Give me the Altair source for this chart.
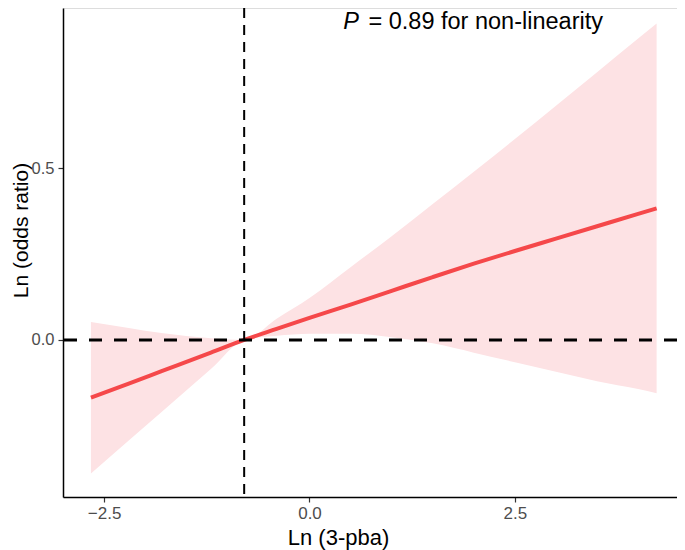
import altair as alt
import pandas as pd

# ---- data ----
x_vals = [-2.66, -2.2, -1.8, -1.2, -0.795, -0.4, 0.0, 0.5, 1.0, 1.5, 2.0, 2.5, 3.0, 3.5, 4.0, 4.225]
fit = [-0.168, -0.127, -0.091, -0.037, 0.0, 0.032, 0.064, 0.103, 0.143, 0.183, 0.222, 0.259, 0.295, 0.331, 0.367, 0.383]
upper = [0.052, 0.035, 0.020, 0.005, 0.0, 0.062, 0.122, 0.212, 0.302, 0.396, 0.490, 0.585, 0.682, 0.780, 0.878, 0.922]
lower = [-0.389, -0.293, -0.210, -0.085, 0.0, 0.012, 0.018, 0.018, 0.008, -0.010, -0.037, -0.065, -0.093, -0.120, -0.143, -0.155]
ref_x = [-0.795]
ref_y = [0.0]
x_ticks = [-2.5, 0.0, 2.5]
y_ticks = [0.0, 0.5]
x_domain = [-3.0, 4.473]
y_domain = [-0.4575, 0.9668]

ann_p = pd.DataFrame({"x": [0.41], "y": [0.905], "t": ["P"]})
ann_rest = pd.DataFrame({"x": [0.718], "y": [0.905], "t": ["= 0.89 for non-linearity"]})

df = pd.DataFrame({"x": x_vals, "fit": fit, "upper": upper, "lower": lower})

FONT = "Liberation Sans"

xscale = alt.Scale(domain=x_domain, nice=False, zero=False)
yscale = alt.Scale(domain=y_domain, nice=False, zero=False)

xaxis = alt.Axis(
    values=x_ticks, format=".1f", grid=False, title="Ln (3-pba)",
    domainColor="black", domainWidth=1.5, tickColor="#333333", tickWidth=1.2, tickSize=5,
    labelColor="#4D4D4D", labelFontSize=17, labelFont=FONT, labelPadding=3,
    titleFont=FONT, titleFontSize=22, titleFontWeight="normal", titleColor="black",
    titleX=275, titleY=47, titleAlign="center", titleBaseline="alphabetic",
)
yaxis = alt.Axis(
    values=y_ticks, format=".1f", grid=False, title="Ln (odds ratio)",
    domainColor="black", domainWidth=1.5, tickColor="#333333", tickWidth=1.2, tickSize=5,
    labelColor="#4D4D4D", labelFontSize=16.5, labelFont=FONT, labelPadding=4,
    titleFont=FONT, titleFontSize=21, titleFontWeight="normal", titleColor="black",
    titleX=-36, titleY=222, titleAngle=-90, titleAlign="center", titleBaseline="alphabetic",
)

base = alt.Chart(df)

band = base.mark_area(color="#FDE2E4", interpolate="monotone").encode(
    x=alt.X("x:Q", scale=xscale, axis=xaxis),
    y=alt.Y("lower:Q", scale=yscale, axis=yaxis),
    y2="upper:Q",
)

line = base.mark_line(color="#F5484A", strokeWidth=4, interpolate="monotone").encode(
    x=alt.X("x:Q", scale=xscale),
    y=alt.Y("fit:Q", scale=yscale),
)

vrule = alt.Chart(pd.DataFrame({"x": ref_x})).mark_rule(
    color="black", strokeWidth=2, strokeDash=[10, 7]
).encode(x=alt.X("x:Q", scale=xscale))

hrule = alt.Chart(pd.DataFrame({"y": ref_y})).mark_rule(
    color="black", strokeWidth=3, strokeDash=[13, 12]
).encode(y=alt.Y("y:Q", scale=yscale))

txt_p = alt.Chart(ann_p).mark_text(
    font=FONT, fontSize=23.5, fontStyle="italic", align="left", baseline="alphabetic", color="black"
).encode(x=alt.X("x:Q", scale=xscale), y=alt.Y("y:Q", scale=yscale), text="t:N")

txt_rest = alt.Chart(ann_rest).mark_text(
    font=FONT, fontSize=23.5, align="left", baseline="alphabetic", color="black"
).encode(x=alt.X("x:Q", scale=xscale), y=alt.Y("y:Q", scale=yscale), text="t:N")

chart = alt.layer(band, line, vrule, hrule, txt_p, txt_rest).properties(
    width=614, height=489,
    autosize=alt.AutoSizeParams(type="none"),
    padding={"left": 55, "top": 0, "right": 0, "bottom": 53},
).configure_view(stroke=None).configure(background="white")

chart.save("out.html", embed_options={"renderer": "svg", "actions": False})
